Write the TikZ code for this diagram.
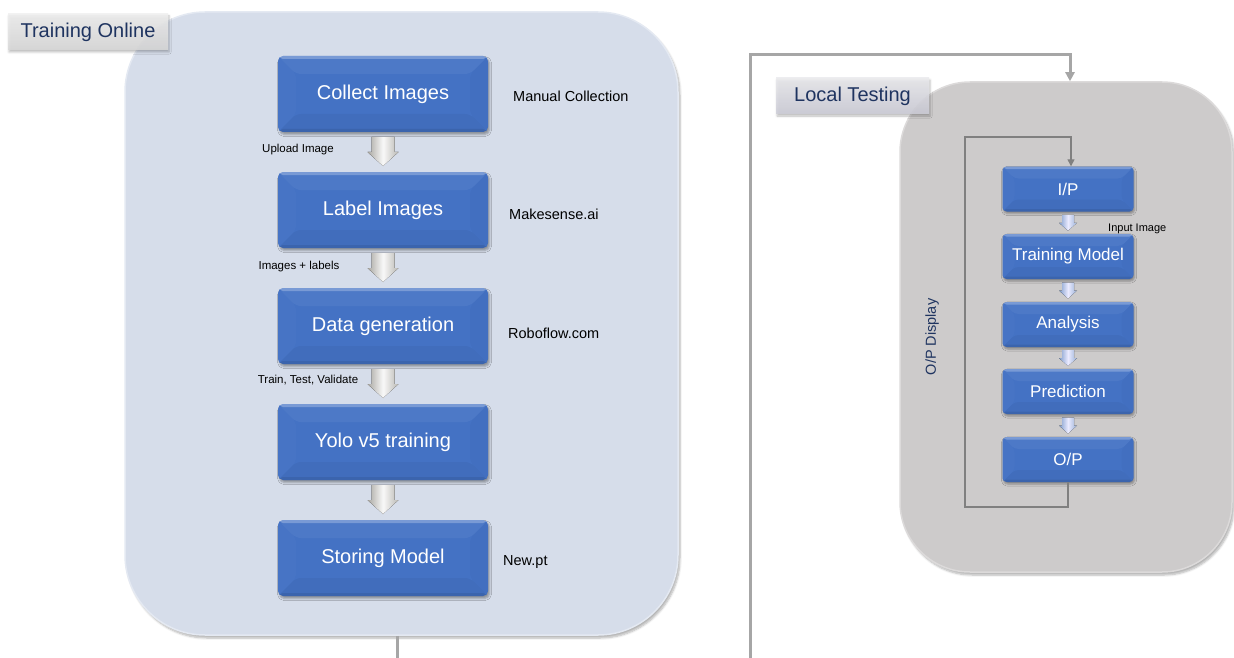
\documentclass[tikz,border=0pt]{standalone}
\usepackage{fontspec}
\setmainfont{Liberation Sans}
\usetikzlibrary{shadows.blur,calc,arrows.meta}
\definecolor{boxmain}{HTML}{4472C4}
\definecolor{panelL}{HTML}{D6DDEA}
\definecolor{panelLedge}{HTML}{E4E9F2}
\definecolor{panelR}{HTML}{CDCBCB}
\definecolor{panelRedge}{HTML}{DCDADA}
\definecolor{navy}{HTML}{1F3460}
\definecolor{loopgray}{HTML}{A6A6A6}
\definecolor{innergray}{HTML}{808080}
\definecolor{arrgray}{HTML}{A9A7A1}
\definecolor{arrblue}{HTML}{7F9CCB}
\newcommand\bevelpic[2]{%
  \fill[white,opacity=0.05] (path picture bounding box.north west) -- (path picture bounding box.north east)
    -- ([xshift=-#1,yshift=-#1]path picture bounding box.north east) -- ([xshift=#1,yshift=-#1]path picture bounding box.north west) -- cycle;
  \fill[white,opacity=0.25] (path picture bounding box.north west) rectangle ([yshift=-#2]path picture bounding box.north east);
  \fill[black,opacity=0.04] (path picture bounding box.south west) -- (path picture bounding box.south east)
    -- ([xshift=-#1,yshift=#1]path picture bounding box.south east) -- ([xshift=#1,yshift=#1]path picture bounding box.south west) -- cycle;
  \fill[black,opacity=0.08] (path picture bounding box.south west) rectangle ([yshift=#2]path picture bounding box.south east);
  \fill[white,opacity=0.02] (path picture bounding box.north west) -- ([xshift=#1,yshift=-#1]path picture bounding box.north west)
    -- ([xshift=#1,yshift=#1]path picture bounding box.south west) -- (path picture bounding box.south west) -- cycle;
  \fill[black,opacity=0.02] (path picture bounding box.north east) -- ([xshift=-#1,yshift=-#1]path picture bounding box.north east)
    -- ([xshift=-#1,yshift=#1]path picture bounding box.south east) -- (path picture bounding box.south east) -- cycle;}
\begin{document}
\begin{tikzpicture}[x=1pt,y=-1pt,
  stepbox/.style={rectangle, rounded corners=5pt, minimum width=210pt, minimum height=76pt,
    text=white, font=\fontsize{20}{24}\selectfont, fill=boxmain,
    blur shadow={shadow xshift=1.5pt, shadow yshift=-2.5pt, shadow blur steps=4, shadow opacity=35},
    path picture={\bevelpic{18pt}{3pt}}},
  smallbox/.style={rectangle, rounded corners=4pt, minimum width=131pt, minimum height=45pt,
    text=white, font=\fontsize{17}{20}\selectfont, fill=boxmain,
    blur shadow={shadow xshift=1pt, shadow yshift=-2pt, shadow blur steps=4, shadow opacity=35},
    path picture={\bevelpic{12pt}{2.5pt}}},
  panelleft/.style={rectangle, rounded corners=80pt, fill=panelL, draw=panelLedge, line width=1.5pt,
    minimum width=553pt, minimum height=623pt,
    blur shadow={shadow xshift=2pt, shadow yshift=-3pt, shadow blur steps=6, shadow opacity=30}},
  panelright/.style={rectangle, rounded corners=70pt, fill=panelR, draw=panelRedge, line width=1.5pt,
    minimum width=332pt, minimum height=490pt,
    blur shadow={shadow xshift=2pt, shadow yshift=-3pt, shadow blur steps=6, shadow opacity=30}},
  tagbox/.style={rectangle, minimum height=36pt, font=\fontsize{20}{24}\selectfont, text=navy,
    fill opacity=0.88, text opacity=1,
    blur shadow={shadow xshift=1pt, shadow yshift=-2pt, shadow blur steps=4, shadow opacity=30}},
  note/.style={font=\fontsize{14.5}{17}\selectfont, text=black, anchor=west, inner sep=0pt},
  small/.style={font=\fontsize{11.5}{14}\selectfont, text=black, inner sep=0pt},
  outerloop/.style={draw=loopgray, line width=3pt, -{Triangle[length=9pt,width=9pt]}},
  innerloop/.style={draw=innergray, line width=1.3pt, -{Triangle[length=7pt,width=7pt]}},
  bigarr/.pic={
    \fill[left color=arrgray, right color=arrgray!80, middle color=white!95!gray]
      (-11.5,-15) -- (11.5,-15) -- (11.5,0) -- (15.5,0) -- (0,14) -- (-15.5,0) -- (-11.5,0) -- cycle;},
  smallarr/.pic={
    \fill[left color=arrblue, right color=arrblue!80, middle color=white!92!blue]
      (-6,-8) -- (6,-8) -- (6,0) -- (9,0) -- (0,8) -- (-9,0) -- (-6,0) -- cycle;}
]
\useasboundingbox (0,0) rectangle (1234,658);

% ---------- left panel ----------
\node[panelleft] (lp) at (401.5,323.5) {};
\node[tagbox, minimum width=160pt, top color=gray!12, bottom color=gray!30] (tagL) at (88,32) {Training Online};

\node[stepbox] (collect) at (383,94) {Collect Images};
\node[stepbox] (label)   at (383,210) {Label Images};
\node[stepbox] (datagen) at (383,326) {Data generation};
\node[stepbox] (yolo)    at (383,442) {Yolo v5 training};
\node[stepbox] (store)   at (383,558) {Storing Model};

\pic at ($(collect.south)!0.5!(label.north)$) {bigarr};
\pic at ($(label.south)!0.5!(datagen.north)$) {bigarr};
\pic at ($(datagen.south)!0.5!(yolo.north)$) {bigarr};
\pic at ($(yolo.south)!0.5!(store.north)$) {bigarr};

\node[small] (l1) at (298,150) {Upload Image};
\node[small] (l2) at (299,267) {Images + labels};
\node[small] (l3) at (308,380) {Train, Test, Validate};

\node[note] (n1) at (513,96) {Manual Collection};
\node[note] (n2) at (509,214) {Makesense.ai};
\node[note] (n3) at (508,333) {Roboflow.com};
\node[note] (n4) at (503,562) {New.pt};

\coordinate (lpend) at (397,660);
\draw[draw=loopgray, line width=3pt] (lpend |- lp.south) -- (lpend);

% ---------- right panel ----------
\node[panelright] (rp) at (1066,327) {};
\node[tagbox, minimum width=153pt, top color=blue!8!gray!15, bottom color=blue!12!gray!35] (tagR) at (852.5,96) {Local Testing};

\node[smallbox] (ip)    at (1068,189) {I/P};
\node[smallbox] (train) at (1068,256.5) {Training Model};
\node[smallbox] (anal)  at (1068,324.5) {Analysis};
\node[smallbox] (pred)  at (1068,391.5) {Prediction};
\node[smallbox] (op)    at (1068,459.5) {O/P};

\pic at ($(ip.south)!0.5!(train.north)$) {smallarr};
\pic at ($(train.south)!0.5!(anal.north)$) {smallarr};
\pic at ($(anal.south)!0.5!(pred.north)$) {smallarr};
\pic at ($(pred.south)!0.5!(op.north)$) {smallarr};

\node[small, anchor=west, font=\fontsize{11}{13}\selectfont] (inimg) at (1108,229) {Input Image};
\node[font=\fontsize{14.5}{17}\selectfont, text=navy, rotate=90, inner sep=0pt] (opd) at (932,337) {O/P Display};

\coordinate (lb) at (965,507);
\coordinate (lt) at (965,137);
\draw[innerloop] (op.south) |- (lb) -- (lt) -| ([xshift=3pt]ip.north);

% ---------- outer loop ----------
\coordinate (os) at (750,660);
\coordinate (oc) at (750,55);
\draw[outerloop] (os) -- (oc) -| ([xshift=4pt]rp.north);
\end{tikzpicture}
\end{document}
